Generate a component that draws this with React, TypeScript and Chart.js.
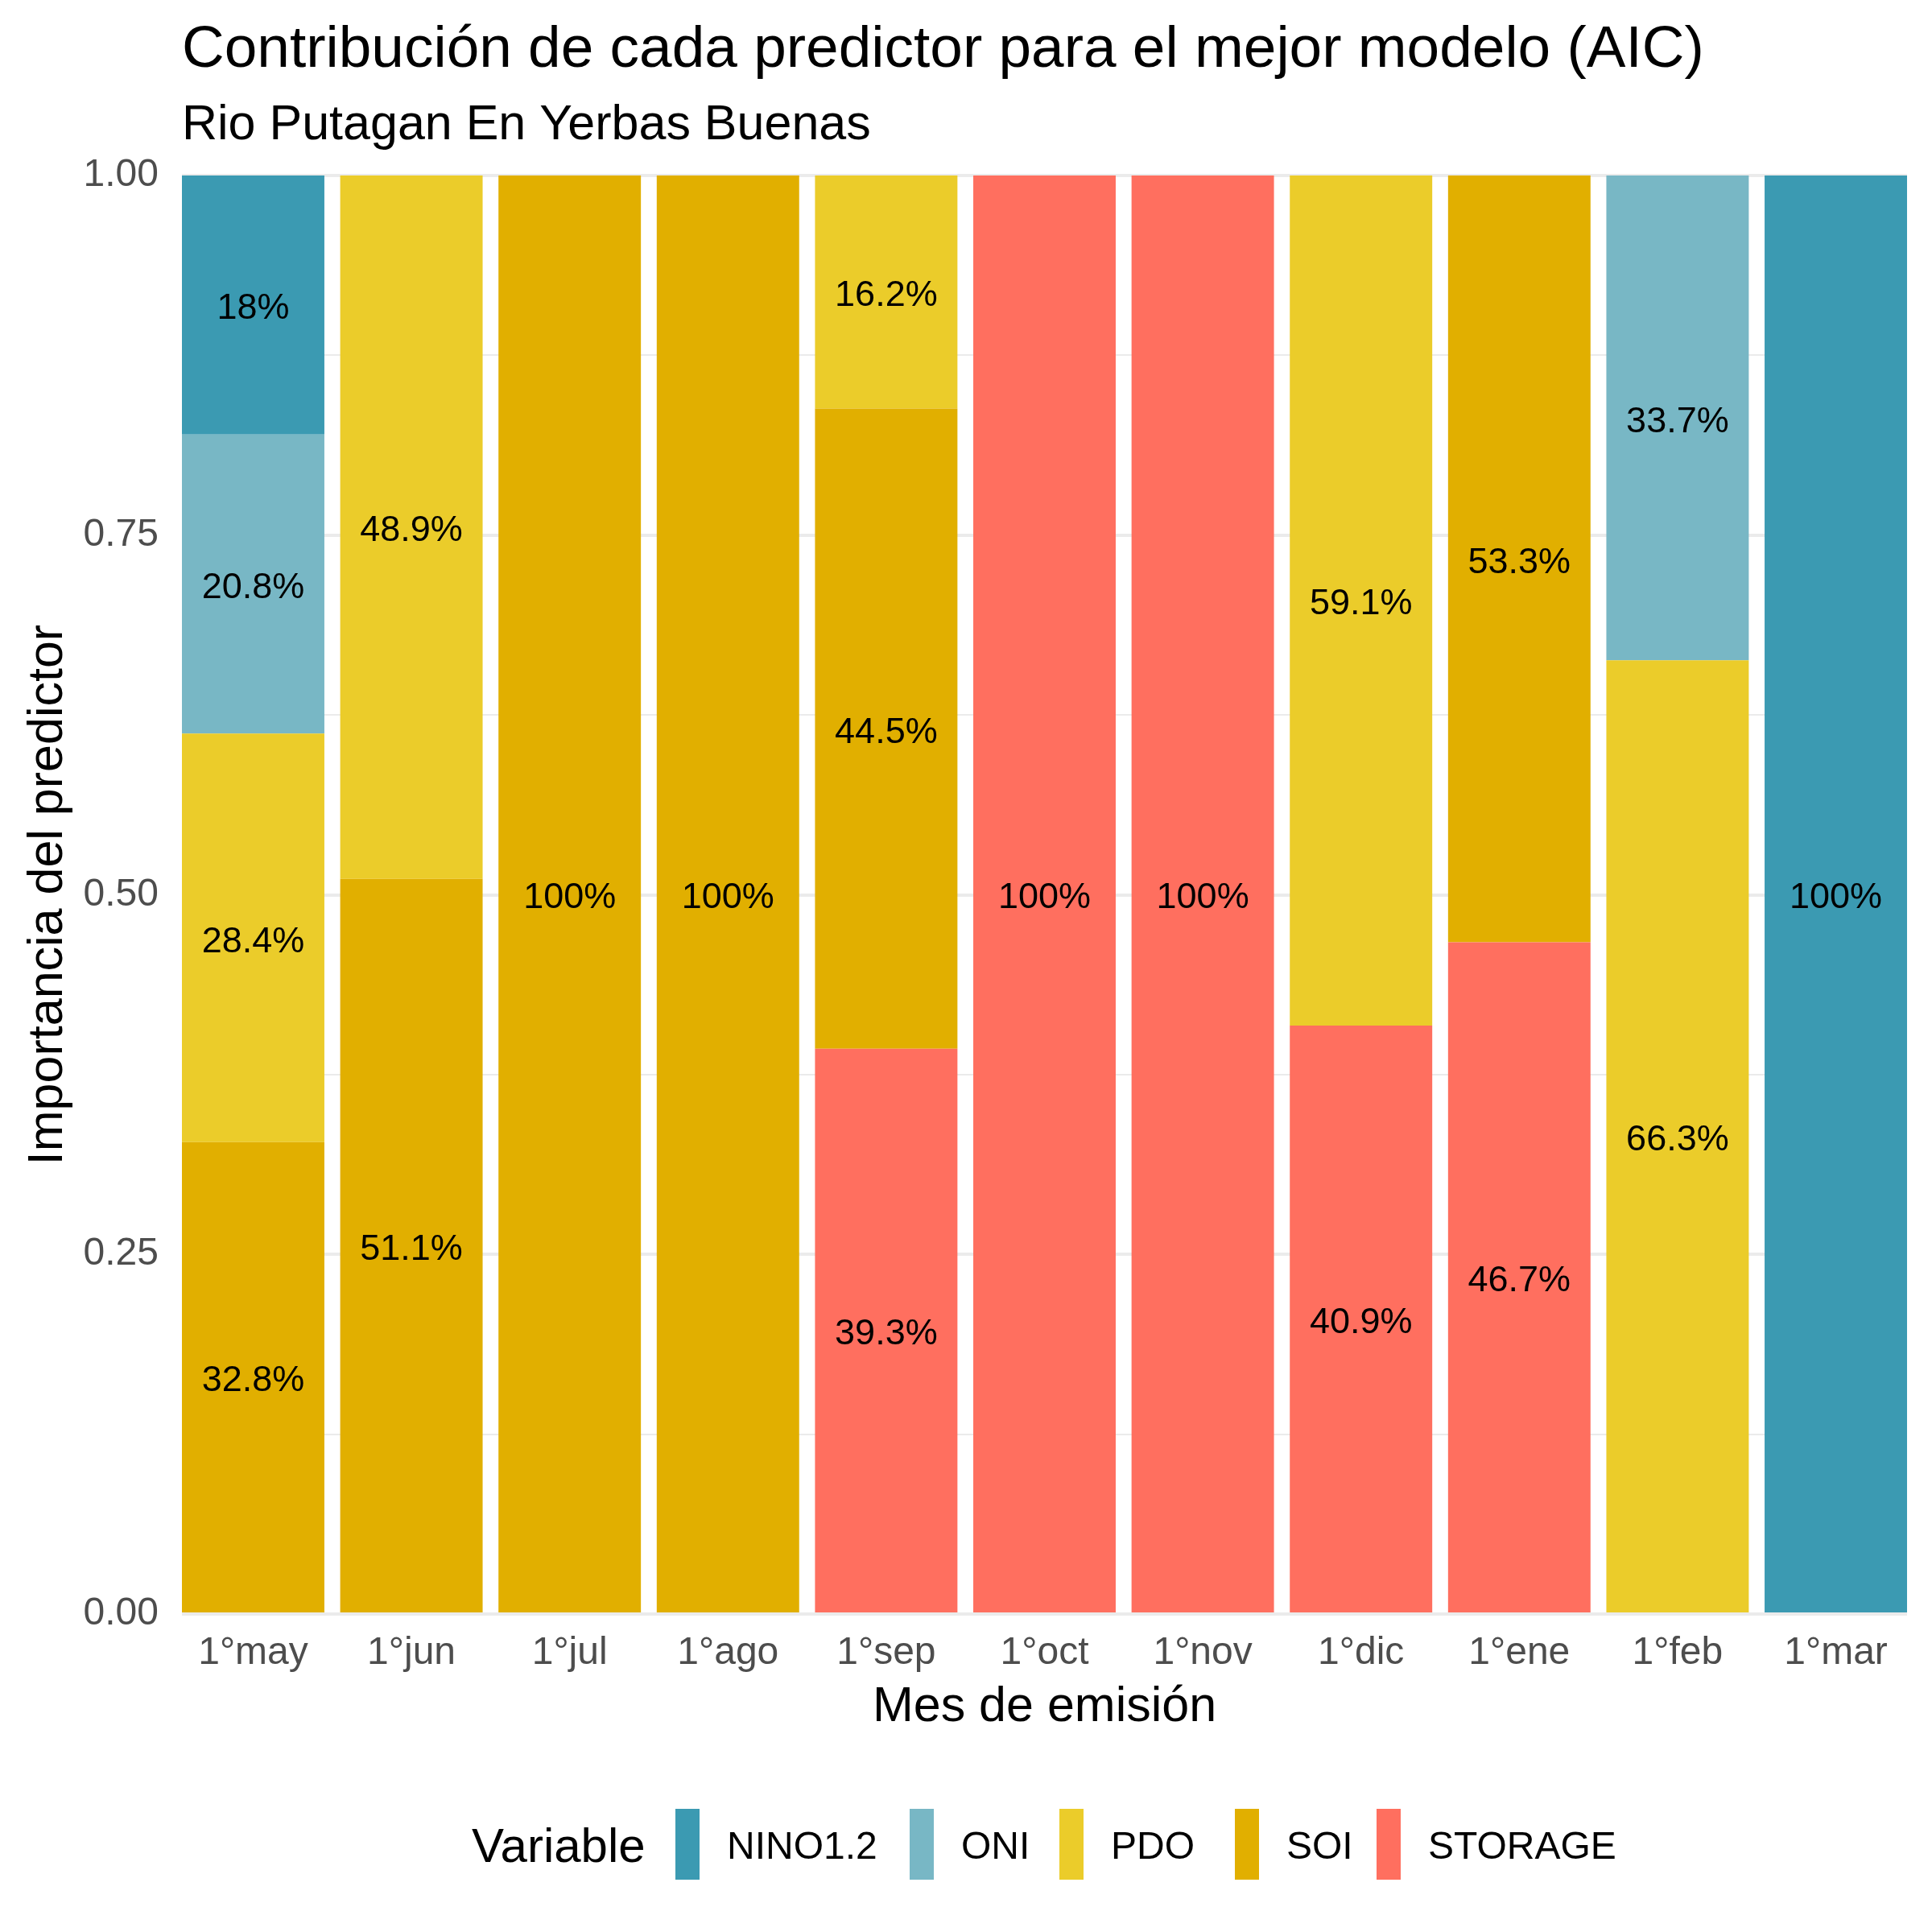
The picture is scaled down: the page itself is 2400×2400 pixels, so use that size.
import React, { useEffect, useRef } from "react";
import { Chart, registerables } from "chart.js";

Chart.register(...registerables);

const categories = ["1°may", "1°jun", "1°jul", "1°ago", "1°sep", "1°oct", "1°nov", "1°dic", "1°ene", "1°feb", "1°mar"];
const variables = ["NINO1.2", "ONI", "PDO", "SOI", "STORAGE"];
const colors = ["#3B9AB2", "#78B7C5", "#EBCC2A", "#E1AF00", "#FF6F5F"];

const nino12 = [0.18, 0, 0, 0, 0, 0, 0, 0, 0, 0, 1.0];
const oni = [0.208, 0, 0, 0, 0, 0, 0, 0, 0, 0.337, 0];
const pdo = [0.284, 0.489, 0, 0, 0.162, 0, 0, 0.591, 0, 0.663, 0];
const soi = [0.328, 0.511, 1.0, 1.0, 0.445, 0, 0, 0, 0.533, 0, 0];
const storage = [0, 0, 0, 0, 0.393, 1.0, 1.0, 0.409, 0.467, 0, 0];

const yTicks = [0, 0.125, 0.25, 0.375, 0.5, 0.625, 0.75, 0.875, 1.0];

const titleText = "Contribución de cada predictor para el mejor modelo (AIC)";
const subtitleText = "Rio Putagan En Yerbas Buenas";
const xTitle = "Mes de emisión";
const yTitle = "Importancia del predictor";
const legendTitle = "Variable";

const FONT = '"Liberation Sans", Arial, Helvetica, sans-serif';

const seriesByVar: Record<string, number[]> = {
  "NINO1.2": nino12,
  ONI: oni,
  PDO: pdo,
  SOI: soi,
  STORAGE: storage,
};

const fmtPct = (v: number) => `${+(v * 100).toFixed(1)}%`;

const textPlugin = {
  id: "ggText",
  afterDatasetsDraw(chart: any) {
    const ctx = chart.ctx;
    ctx.save();
    ctx.fillStyle = "#000000";
    ctx.font = `45px ${FONT}`;
    ctx.textAlign = "center";
    ctx.textBaseline = "middle";
    chart.data.datasets.forEach((ds: any, di: number) => {
      const meta = chart.getDatasetMeta(di);
      meta.data.forEach((el: any, i: number) => {
        const v = ds.data[i].y;
        if (!v) return;
        const cy = (el.y + el.base) / 2;
        ctx.fillText(fmtPct(v), el.x, cy + 5);
      });
    });
    ctx.restore();
  },
  afterDraw(chart: any) {
    const ctx = chart.ctx;
    const area = chart.chartArea;
    ctx.save();
    ctx.fillStyle = "#000000";
    ctx.textBaseline = "alphabetic";
    ctx.textAlign = "left";
    ctx.font = `73px ${FONT}`;
    ctx.fillText(titleText, area.left, 83);
    ctx.font = `61px ${FONT}`;
    ctx.fillText(subtitleText, area.left, 173);

    ctx.font = `61px ${FONT}`;
    ctx.textAlign = "center";
    ctx.fillText(xTitle, (area.left + area.right) / 2, 2138);

    ctx.save();
    ctx.translate(77, (area.top + area.bottom) / 2);
    ctx.rotate(-Math.PI / 2);
    ctx.fillText(yTitle, 0, 0);
    ctx.restore();

    // legend
    const ly = 2291;
    ctx.textAlign = "left";
    ctx.textBaseline = "middle";
    ctx.font = `60px ${FONT}`;
    ctx.fillText(legendTitle, 586, ly + 5);
    const keyX = [839, 1130, 1316, 1534, 1710];
    ctx.font = `48px ${FONT}`;
    variables.forEach((name, k) => {
      ctx.fillStyle = colors[k];
      ctx.fillRect(keyX[k], 2247, 30, 88);
      ctx.fillStyle = "#000000";
      ctx.fillText(name, keyX[k] + 64, ly + 5);
    });
    ctx.restore();
  },
};

export default function App() {
  const ref = useRef<HTMLCanvasElement | null>(null);

  useEffect(() => {
    if (!ref.current) return;
    const order = ["STORAGE", "SOI", "PDO", "ONI", "NINO1.2"];
    const datasets = order.map((name) => {
      const k = variables.indexOf(name);
      return {
        label: name,
        data: seriesByVar[name].map((v, i) => ({ x: i + 1, y: v })),
        backgroundColor: colors[k],
        borderWidth: 0,
        barPercentage: 0.9,
        categoryPercentage: 1.0,
      };
    });

    const chart = new Chart(ref.current, {
      type: "bar",
      data: { datasets },
      options: {
        animation: false,
        responsive: false,
        devicePixelRatio: 1,
        layout: { padding: { top: 218, right: 31, left: 0, bottom: 0 } },
        plugins: {
          legend: { display: false },
          tooltip: { enabled: false },
          title: { display: false },
        },
        scales: {
          x: {
            type: "linear",
            stacked: true,
            offset: false,
            min: 0.55,
            max: 11.45,
            afterBuildTicks: (scale: any) => {
              scale.ticks = categories.map((_, i) => ({ value: i + 1 }));
            },
            afterFit: (scale: any) => {
              scale.height = 395;
            },
            grid: { display: false, drawTicks: false, offset: false },
            border: { display: false },
            ticks: {
              autoSkip: false,
              maxRotation: 0,
              padding: 20,
              color: "#4D4D4D",
              font: { family: FONT, size: 48 },
              callback: (v: any) => categories[Math.round(Number(v)) - 1] ?? "",
            },
          },
          y: {
            type: "linear",
            stacked: true,
            min: 0,
            max: 1,
            afterBuildTicks: (scale: any) => {
              scale.ticks = yTicks.map((v) => ({ value: v }));
            },
            afterFit: (scale: any) => {
              scale.width = 226;
            },
            border: { display: false },
            grid: {
              drawTicks: false,
              color: "#EBEBEB",
              lineWidth: (c: any) => {
                const v = c.tick ? c.tick.value : 0;
                return Math.abs(v * 4 - Math.round(v * 4)) < 1e-6 ? 4 : 2;
              },
            },
            ticks: {
              padding: 29,
              color: "#4D4D4D",
              font: { family: FONT, size: 48 },
              callback: (v: any) => {
                const n = Number(v);
                return Math.abs(n * 4 - Math.round(n * 4)) < 1e-6 ? n.toFixed(2) : "";
              },
            },
          },
        },
      },
      plugins: [textPlugin],
    });
    return () => chart.destroy();
  }, []);

  return (
    <div style={{ position: "absolute", left: 0, top: 0, width: 2400, height: 2400, background: "#ffffff" }}>
      <canvas ref={ref} width={2400} height={2400} style={{ width: 2400, height: 2400, display: "block" }} />
    </div>
  );
}
